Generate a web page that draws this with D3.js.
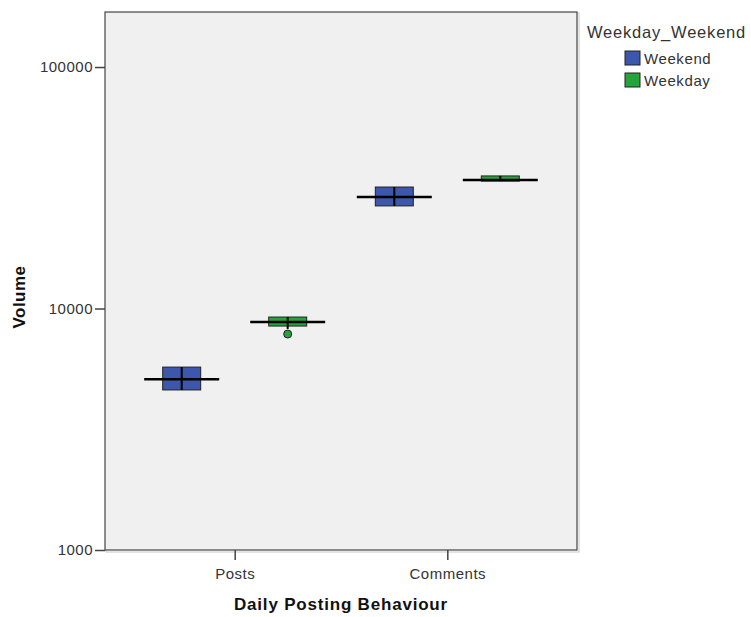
<!DOCTYPE html>
<html>
<head>
<meta charset="utf-8">
<script src="https://cdn.jsdelivr.net/npm/d3@7"></script>
<style>
  body { margin: 0; background: #fff; }
  svg text { font-family: "Liberation Sans", Arial, sans-serif; }
</style>
</head>
<body>
<svg id="chart" width="751" height="617"></svg>
<script>
// categories and groups
var categories = ['Posts', 'Comments'];
var groups = ['Weekend', 'Weekday'];
var yTicks = [1000, 10000, 100000];

// box stats: [min, q1, median, q3, max] per category, per group
var weekendStats = [[4600, 4600, 5100, 5720, 5720], [26600, 26600, 28950, 31850, 31850]];
var weekdayStats = [[8230, 8460, 8790, 9220, 9220], [33700, 33700, 34050, 35400, 35400]];
var weekdayOutliers = [[7840], []];

var colors = {Weekend: '#3c57ab', Weekday: '#25a43c'};

var svg = d3.select('#chart'),
    margin = {top: 12, right: 174, bottom: 67, left: 105},
    width = +svg.attr('width') - margin.left - margin.right,
    height = +svg.attr('height') - margin.top - margin.bottom;

var x = d3.scalePoint().domain(categories).range([0, width]).padding(0.61);
var y = d3.scaleLog().domain([1000, 169000]).range([height, 0]);
var off = d3.scalePoint().domain(groups).range([-53, 53]);

var g = svg.append('g')
  .attr('transform', 'translate(' + margin.left + ',' + margin.top + ')');

// plot background
g.append('rect')
  .attr('x', 1).attr('y', 1)
  .attr('width', width + 1).attr('height', height + 1)
  .style('fill', 'none').style('stroke', '#c8c8c8');
g.append('rect')
  .attr('width', width).attr('height', height)
  .style('fill', '#f0f0f0').style('stroke', '#444').style('stroke-width', 1.2);

// y axis
var yAxis = g.append('g')
  .call(d3.axisLeft(y).tickValues(yTicks).tickFormat(d3.format('d')).tickSizeOuter(0).tickSize(10));
yAxis.select('.domain').remove();
yAxis.selectAll('line').style('stroke', '#444').style('stroke-width', 1.5);
yAxis.selectAll('text').style('font-size', '15px').style('letter-spacing', '0.5px')
  .style('fill', '#333').attr('x', -12);

// x axis
var xAxis = g.append('g')
  .attr('transform', 'translate(0,' + height + ')')
  .call(d3.axisBottom(x).tickSizeOuter(0).tickSize(10));
xAxis.select('.domain').remove();
xAxis.selectAll('line').style('stroke', '#444').style('stroke-width', 1.5);
xAxis.selectAll('text').style('font-size', '15px').style('letter-spacing', '0.5px')
  .style('fill', '#333').attr('y', 18);

// axis titles
g.append('text')
  .attr('transform', 'rotate(-90)')
  .attr('x', -285).attr('y', -80)
  .attr('text-anchor', 'middle')
  .style('font-size', '17px').style('font-weight', 'bold').style('letter-spacing', '0.5px')
  .style('fill', '#111')
  .text('Volume');

g.append('text')
  .attr('x', width / 2).attr('y', height + 60)
  .attr('text-anchor', 'middle')
  .style('font-size', '17px').style('font-weight', 'bold').style('letter-spacing', '0.8px')
  .style('fill', '#111')
  .text('Daily Posting Behaviour');

// boxes
var boxW = 38, medW = 75;
var rows = [];
categories.forEach(function(c, i) {
  rows.push({cat: c, grp: 'Weekend', s: weekendStats[i], out: []});
  rows.push({cat: c, grp: 'Weekday', s: weekdayStats[i], out: weekdayOutliers[i]});
});

var box = g.selectAll('.box')
  .data(rows)
  .enter()
  .append('g')
  .attr('class', 'box')
  .attr('transform', function(d) { return 'translate(' + (x(d.cat) + off(d.grp)) + ',0)'; });

box.append('rect')
  .attr('x', -boxW / 2)
  .attr('y', function(d) { return y(d.s[3]); })
  .attr('width', boxW)
  .attr('height', function(d) { return y(d.s[1]) - y(d.s[3]); })
  .style('fill', function(d) { return colors[d.grp]; })
  .style('stroke', '#222').style('stroke-width', 1);

box.append('line')
  .attr('x1', 0).attr('x2', 0)
  .attr('y1', function(d) { return y(d.s[4]); })
  .attr('y2', function(d) { return y(d.s[0]); })
  .style('stroke', '#000').style('stroke-width', 2);

box.append('line')
  .attr('x1', -medW / 2).attr('x2', medW / 2)
  .attr('y1', function(d) { return y(d.s[2]); })
  .attr('y2', function(d) { return y(d.s[2]); })
  .style('stroke', '#000').style('stroke-width', 2.5);

box.selectAll('.outlier')
  .data(function(d) { return d.out.map(function(v) { return {v: v, grp: d.grp}; }); })
  .enter()
  .append('circle')
  .attr('class', 'outlier')
  .attr('cx', 0)
  .attr('cy', function(d) { return y(d.v); })
  .attr('r', 4)
  .style('fill', function(d) { return colors[d.grp]; })
  .style('stroke', '#222');

// legend
var lg = svg.append('g').attr('transform', 'translate(587,0)');
lg.append('text')
  .attr('x', 0).attr('y', 38)
  .style('font-size', '16.5px').style('letter-spacing', '0.8px').style('fill', '#333')
  .text('Weekday_Weekend');

var item = lg.selectAll('.legend')
  .data(groups)
  .enter()
  .append('g')
  .attr('class', 'legend')
  .attr('transform', function(d, i) { return 'translate(38,' + (51 + i * 22) + ')'; });

item.append('rect')
  .attr('width', 15).attr('height', 14)
  .style('fill', function(d) { return colors[d]; })
  .style('stroke', '#222');

item.append('text')
  .attr('x', 19).attr('y', 13)
  .style('font-size', '15px').style('letter-spacing', '0.6px').style('fill', '#333')
  .text(function(d) { return d; });
</script>
</body>
</html>
